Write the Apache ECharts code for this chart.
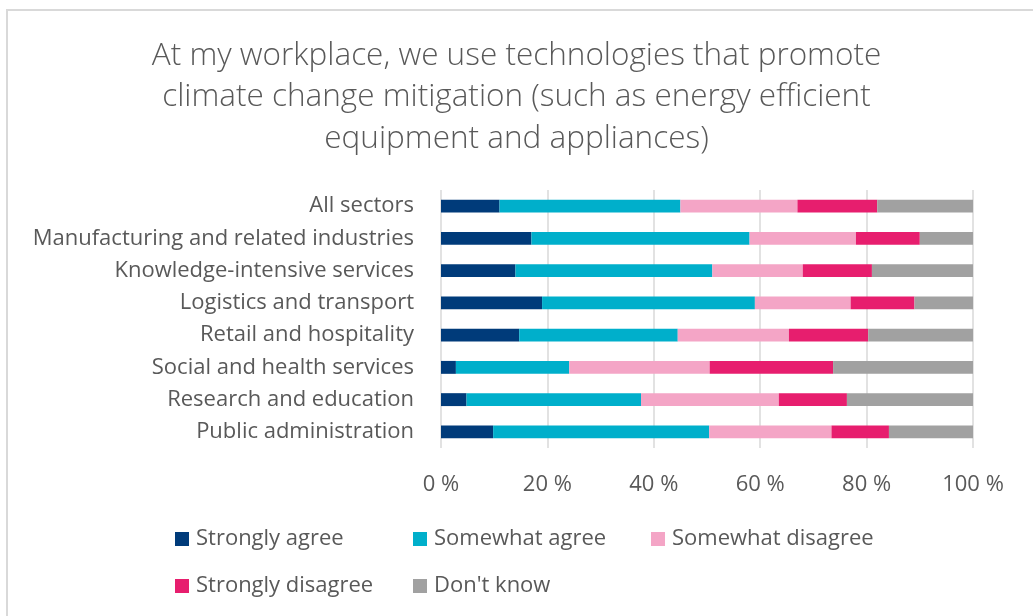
<!DOCTYPE html>
<html>
<head>
<meta charset="utf-8">
<script src="https://cdn.jsdelivr.net/npm/echarts@6/dist/echarts.min.js"></script>
<style>
  html, body { margin: 0; padding: 0; background: #ffffff; }
  #chart { width: 1033px; height: 616px; }
</style>
</head>
<body>
<div id="chart"></div>
<script>
// Sectors, top to bottom
const sectors = [
  'All sectors',
  'Manufacturing and related industries',
  'Knowledge-intensive services',
  'Logistics and transport',
  'Retail and hospitality',
  'Social and health services',
  'Research and education',
  'Public administration'
];

// Share of respondents (%) per answer
const stronglyAgree    = [11, 17, 14, 19, 14.7, 2.8, 4.8, 9.8];
const somewhatAgree    = [34, 41, 37, 40, 29.8, 21.3, 32.8, 40.6];
const somewhatDisagree = [22, 20, 17, 18, 20.9, 26.4, 25.9, 23.0];
const stronglyDisagree = [15, 12, 13, 12, 14.9, 23.2, 12.8, 10.8];
const dontKnow         = [18, 10, 19, 11, 19.7, 26.3, 23.7, 15.8];

const answerNames = ['Strongly agree', 'Somewhat agree', 'Somewhat disagree', 'Strongly disagree', "Don't know"];
const answerValues = [stronglyAgree, somewhatAgree, somewhatDisagree, stronglyDisagree, dontKnow];
const answerColors = ['#003B7A', '#00AFCB', '#F4A5C6', '#E71E6E', '#A1A1A1'];

const titleText = 'At my workplace, we use technologies that promote\nclimate change mitigation (such as energy efficient\nequipment and appliances)';

const textColor = '#595959';
const fontFamily = '"Open Sans", "Noto Sans", sans-serif';

// Legend laid out in two rows, like the original report
const legendSlots = [
  { left: 170, top: 523 },
  { left: 408, top: 523 },
  { left: 646, top: 523 },
  { left: 170, top: 570 },
  { left: 408, top: 570 }
];

const chart = echarts.init(document.getElementById('chart'), null, { renderer: 'canvas' });

chart.setOption({
  backgroundColor: '#ffffff',
  animation: false,
  textStyle: { fontFamily: fontFamily },
  title: {
    text: titleText,
    left: 'center',
    top: 35,
    padding: [0, 0, 0, 8],
    textStyle: {
      fontFamily: fontFamily,
      fontSize: 31.5,
      fontWeight: 300,
      lineHeight: 41.5,
      color: textColor
    }
  },
  graphic: [{
    type: 'rect',
    z: -10,
    shape: { x: 7, y: 10, width: 1100, height: 700 },
    style: { fill: 'none', stroke: '#d9d9d9', lineWidth: 2 }
  }],
  legend: answerNames.map((name, i) => ({
    data: [name],
    left: legendSlots[i].left,
    top: legendSlots[i].top,
    icon: 'rect',
    itemWidth: 14,
    itemHeight: 14,
    selectedMode: false,
    textStyle: { fontFamily: fontFamily, fontSize: 22, color: textColor, padding: [0, 0, 0, 2] }
  })),
  grid: { left: 441, right: 60, top: 190, bottom: 168, containLabel: false },
  xAxis: {
    type: 'value',
    min: 0,
    max: 100,
    interval: 20,
    axisLine: { show: false },
    axisTick: { show: false },
    splitLine: { show: true, lineStyle: { color: '#d9d9d9', width: 1.5 } },
    axisLabel: {
      formatter: '{value} %',
      fontFamily: fontFamily,
      fontSize: 22,
      color: textColor,
      margin: 26
    }
  },
  yAxis: {
    type: 'category',
    data: sectors,
    inverse: true,
    axisLine: { show: false },
    axisTick: { show: false },
    axisLabel: {
      fontFamily: fontFamily,
      fontSize: 22,
      color: textColor,
      margin: 27,
      interval: 0
    }
  },
  series: answerNames.map((name, i) => ({
    name: name,
    type: 'bar',
    stack: 'total',
    barCategoryGap: '60%',
    data: answerValues[i],
    itemStyle: { color: answerColors[i] },
    emphasis: { disabled: true }
  }))
});
</script>
</body>
</html>
